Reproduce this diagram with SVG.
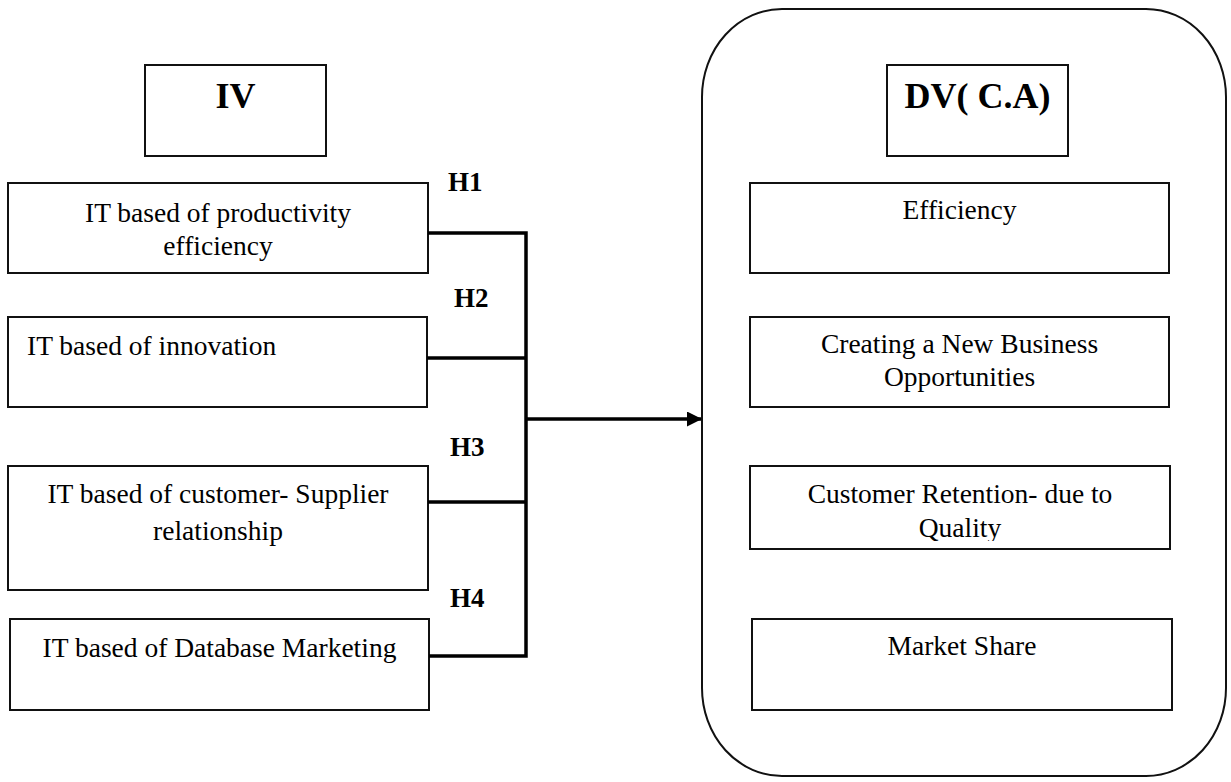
<svg xmlns="http://www.w3.org/2000/svg" width="1231" height="782" viewBox="0 0 1231 782">
<style>
.box{fill:#fff;stroke:#111;stroke-width:2}
.outer{fill:none;stroke:#111;stroke-width:2}
.t{font-family:"Liberation Serif","Times New Roman",serif;font-size:27.5px;fill:#000}
.c{text-anchor:middle}
.b{font-family:"Liberation Serif","Times New Roman",serif;font-weight:bold;fill:#000}
.h{font-size:27px}
.big{font-size:36px;text-anchor:middle}
.conn{fill:none;stroke:#000;stroke-width:3.5}
</style>
<defs>
<marker id="arr" markerWidth="15" markerHeight="15" refX="14" refY="7.5" orient="auto" markerUnits="userSpaceOnUse">
<path d="M0,0 L15,7.5 L0,15 Z" fill="#000"/>
</marker>
<clipPath id="clipQ"><rect x="750" y="466" width="420" height="75"/></clipPath>
</defs>
<rect width="1231" height="782" fill="#fff"/>

<g id="dv-container">
<path class="outer" d="M782,9 H1146 A80,88 0 0 1 1226,97 V688 A80,88 0 0 1 1146,776 H782 A80,88 0 0 1 702,688 V97 A80,88 0 0 1 782,9 Z"/>
</g>

<g id="iv">
<rect class="box" x="145" y="65" width="181" height="91"/>
<text class="b big" x="235.5" y="108">IV</text>
</g>

<g id="iv1">
<rect class="box" x="8" y="183" width="420" height="90"/>
<text class="t c" x="218" y="222">IT based of productivity</text>
<text class="t c" x="218" y="255">efficiency</text>
</g>

<g id="iv2">
<rect class="box" x="8" y="317" width="419" height="90"/>
<text class="t" x="27" y="355">IT based of innovation</text>
</g>

<g id="iv3">
<rect class="box" x="8" y="466" width="420" height="124"/>
<text class="t c" x="218" y="503">IT based of customer- Supplier</text>
<text class="t c" x="218" y="540">relationship</text>
</g>

<g id="iv4">
<rect class="box" x="10" y="619" width="419" height="91"/>
<text class="t c" x="219.5" y="657">IT based of Database Marketing</text>
</g>

<g id="dv">
<rect class="box" x="887" y="65" width="181" height="91"/>
<text class="b big" x="977.5" y="108">DV( C.A)</text>
</g>

<g id="dv1">
<rect class="box" x="750" y="183" width="419" height="90"/>
<text class="t c" x="959.5" y="219">Efficiency</text>
</g>

<g id="dv2">
<rect class="box" x="750" y="317" width="419" height="90"/>
<text class="t c" x="959.5" y="353">Creating a New Business</text>
<text class="t c" x="959.5" y="386">Opportunities</text>
</g>

<g id="dv3">
<rect class="box" x="750" y="466" width="420" height="83"/>
<text class="t c" x="960" y="503">Customer Retention- due to</text>
<text class="t c" x="960" y="537" clip-path="url(#clipQ)">Quality</text>
</g>

<g id="dv4">
<rect class="box" x="752" y="619" width="420" height="91"/>
<text class="t c" x="962" y="655">Market Share</text>
</g>

<g id="connectors">
<path class="conn" d="M428,233 H526 V656 H429"/>
<path class="conn" d="M427,358 H526"/>
<path class="conn" d="M428,502 H526"/>
<path class="conn" d="M526,419 H701" marker-end="url(#arr)"/>
<text class="b h" x="448" y="191">H1</text>
<text class="b h" x="454" y="307">H2</text>
<text class="b h" x="450" y="456">H3</text>
<text class="b h" x="450" y="607">H4</text>
</g>
</svg>
